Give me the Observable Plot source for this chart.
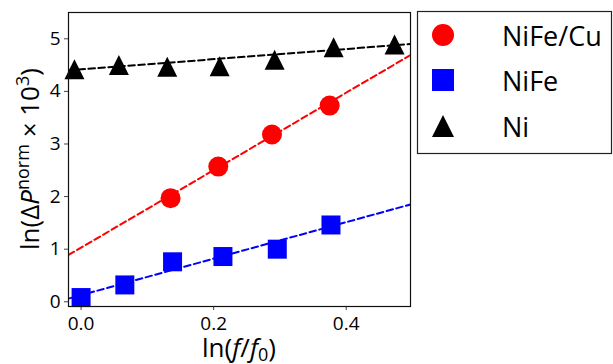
<!DOCTYPE html>
<html>
<head>
<meta charset="utf-8">
<script src="https://cdn.jsdelivr.net/npm/d3@7"></script>
<script src="https://cdn.jsdelivr.net/npm/@observablehq/plot@0.6"></script>
<style>
  body { margin: 0; background: #fff; }
  #chart svg { display: block; }
</style>
</head>
<body>
<div id="chart"></div>
<script>
// ---- data ----
const seriesNames = ["NiFe/Cu", "NiFe", "Ni"];
const seriesColors = ["#ff0000", "#0000ff", "#000000"];

const xNiFeCu = [0.135, 0.207, 0.288, 0.375];
const yNiFeCu = [1.97, 2.57, 3.18, 3.73];

const xNiFe = [0.0, 0.066, 0.138, 0.214, 0.296, 0.377];
const yNiFe = [0.08, 0.32, 0.76, 0.86, 1.00, 1.46];

const xNi = [-0.01, 0.057, 0.130, 0.209, 0.292, 0.381, 0.473];
const yNi = [4.42, 4.50, 4.47, 4.48, 4.60, 4.84, 4.89];

// fitted (dashed) lines: end points at the plot edges
const xFit = [-0.019, 0.497];
const yFitNiFeCu = [0.89, 4.69];
const yFitNiFe = [0.06, 1.85];
const yFitNi = [4.40, 4.90];

const xTicks = [0.0, 0.2, 0.4];
const yTicks = [0, 1, 2, 3, 4, 5];

// ---- build tables ----
const pts = [
  ...xNiFeCu.map((x, i) => ({s: "NiFe/Cu", x, y: yNiFeCu[i]})),
  ...xNiFe.map((x, i) => ({s: "NiFe", x, y: yNiFe[i]})),
  ...xNi.map((x, i) => ({s: "Ni", x, y: yNi[i]}))
];
const fits = [
  ...xFit.map((x, i) => ({s: "NiFe/Cu", x, y: yFitNiFeCu[i]})),
  ...xFit.map((x, i) => ({s: "NiFe", x, y: yFitNiFe[i]})),
  ...xFit.map((x, i) => ({s: "Ni", x, y: yFitNi[i]}))
];

const triUp = {draw(ctx, size) { const s = Math.sqrt(size / Math.PI); ctx.moveTo(0, -s); ctx.lineTo(s, s); ctx.lineTo(-s, s); ctx.closePath(); }};
const square = {draw(ctx, size) { const s = Math.sqrt(size / Math.PI); ctx.rect(-s, -s, 2 * s, 2 * s); }};

const colorOf = Object.fromEntries(seriesNames.map((n, i) => [n, seriesColors[i]]));

const W = 613, H = 364;
const svg = Plot.plot({
  width: W,
  height: H,
  marginLeft: 68,
  marginRight: 203,
  marginTop: 12,
  marginBottom: 58,
  style: {fontFamily: "Open Sans", fontSize: "19px", color: "#000", background: "#fff"},
  x: {domain: [-0.019, 0.497]},
  y: {domain: [-0.09, 5.5]},
  marks: [
    Plot.axisX({ticks: xTicks, tickFormat: d3.format(".1f"), tickSize: 4, tickPadding: 6, label: null, stroke: "#444"}),
    Plot.axisY({ticks: yTicks, tickFormat: d3.format("d"), tickSize: 4, tickPadding: 4, label: null, stroke: "#444"}),
    Plot.line(fits, {x: "x", y: "y", z: "s", stroke: d => colorOf[d.s], strokeWidth: 2, strokeDasharray: "6.5,3.5", clip: true}),
    Plot.dot(pts.filter(d => d.s === "NiFe/Cu"), {x: "x", y: "y", r: 10, fill: colorOf["NiFe/Cu"], symbol: "circle"}),
    Plot.dot(pts.filter(d => d.s === "NiFe"), {x: "x", y: "y", r: 9.5, fill: colorOf["NiFe"], symbol: square}),
    Plot.dot(pts.filter(d => d.s === "Ni"), {x: "x", y: "y", r: 10, fill: colorOf["Ni"], symbol: triUp}),
    Plot.frame({stroke: "#111", strokeWidth: 1.2})
  ]
});

const s = d3.select(svg);

// x axis label: ln(f/f0)
const xl = s.append("text")
  .attr("x", (68 + (W - 203)) / 2).attr("y", 357)
  .attr("text-anchor", "middle")
  .attr("font-family", "Open Sans").attr("font-size", 26).attr("fill", "#000");
xl.append("tspan").text("ln(");
xl.append("tspan").attr("font-style", "italic").text("f");
xl.append("tspan").text("/");
xl.append("tspan").attr("font-style", "italic").text("f");
xl.append("tspan").attr("font-size", 18).attr("dy", 4).text("0");
xl.append("tspan").attr("dy", -4).text(")");

// y axis label: ln(ΔP^norm × 10^3)
const yl = s.append("text")
  .attr("transform", `translate(39,${(12 + (H - 58)) / 2}) rotate(-90)`)
  .attr("text-anchor", "middle")
  .attr("font-family", "Open Sans").attr("font-size", 26).attr("fill", "#000");
yl.append("tspan").text("ln(Δ");
yl.append("tspan").attr("font-style", "italic").text("P");
yl.append("tspan").attr("font-size", 18).attr("dy", -10).text("norm");
yl.append("tspan").attr("dy", 10).text(" × 10");
yl.append("tspan").attr("font-size", 18).attr("dy", -10).text("3");
yl.append("tspan").attr("dy", 10).text(")");

// legend
const lg = s.append("g");
lg.append("rect").attr("x", 417.5).attr("y", 11.5).attr("width", 194).attr("height", 142)
  .attr("fill", "#fff").attr("stroke", "#222").attr("stroke-width", 1.2);
const legendSymbols = [d3.symbolCircle, square, triUp];
const rows = [35, 80, 126];
seriesNames.forEach((n, i) => {
  lg.append("path")
    .attr("transform", `translate(443,${rows[i]})`)
    .attr("d", d3.symbol(legendSymbols[i], Math.PI * 11 * 11)())
    .attr("fill", seriesColors[i]);
  lg.append("text").attr("x", 502).attr("y", rows[i] + 11)
    .attr("text-anchor", "start")
    .attr("font-family", "Open Sans").attr("font-size", 27).attr("fill", "#000")
    .text(n);
});

document.getElementById("chart").appendChild(svg);
</script>
</body>
</html>
